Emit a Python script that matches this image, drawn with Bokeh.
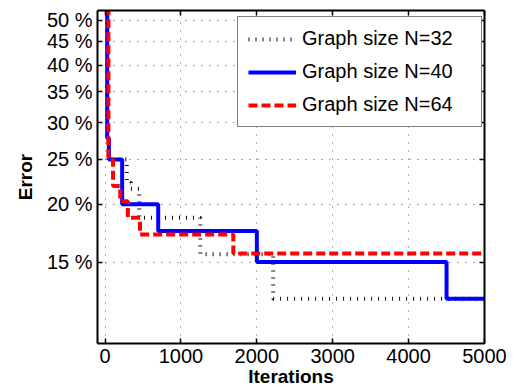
from bokeh.plotting import figure
from bokeh.models import (Range1d, LogAxis, LinearAxis, FixedTicker, Legend,
                          LegendItem, CustomLabelingPolicy)
from bokeh.embed import file_html
from bokeh.resources import INLINE

# ---------------- data ----------------
iter_ticks = [0, 1000, 2000, 3000, 4000, 5000]
err_ticks = [15, 20, 25, 30, 35, 40, 45, 50]
err_tick_labels = ["15 %", "20 %", "25 %", "30 %", "35 %", "40 %", "45 %", "50 %"]

# step curves: iteration where error changes, error (%) from then on
n32_iter = [0, 28, 50, 285, 340, 450, 1255, 2215]
n32_err = [60, 27.8, 25, 22.3, 21.6, 18.7, 15.6, 12.5]

n40_iter = [0, 28, 50, 225, 700, 2000, 4500]
n40_err = [60, 27.8, 25, 20, 17.5, 15, 12.5]

n64_iter = [0, 44, 105, 200, 300, 460, 1690]
n64_err = [60, 25, 21.9, 20.3, 18.7, 17.2, 15.65]

last_iter = 5000
labels = ["Graph size N=32", "Graph size N=40", "Graph size N=64"]

x_start, x_end = -100, 5000
y_start, y_end = 10, 52.5

FONT = "Liberation Sans"

p = figure(width=515, height=391,
           x_range=Range1d(x_start, x_end), y_range=Range1d(y_start, y_end),
           y_axis_type="log", output_backend="svg", toolbar_location=None,
           min_border_left=97, min_border_right=31, min_border_top=10,
           min_border_bottom=48)
p.outline_line_color = None
p.background_fill_color = "white"

hide_all = CustomLabelingPolicy(code="return [];")
top_axis = LinearAxis(major_label_text_font_size="1px", major_label_standoff=0,
                      major_label_policy=hide_all)
right_axis = LogAxis(major_label_text_font_size="1px", major_label_standoff=0,
                     major_label_policy=CustomLabelingPolicy(code="return [];"))
p.add_layout(top_axis, "above")
p.add_layout(right_axis, "right")

for ax in p.xaxis:
    ax.ticker = FixedTicker(ticks=iter_ticks)
for ax in p.yaxis:
    ax.ticker = FixedTicker(ticks=err_ticks)
for ax in list(p.xaxis) + list(p.yaxis):
    ax.major_tick_in = 5
    ax.major_tick_out = 0
    ax.minor_tick_in = 0
    ax.minor_tick_out = 0
    ax.axis_line_width = 2
    ax.axis_line_color = "black"
    ax.major_tick_line_width = 1.5
    ax.major_tick_line_color = "black"

main_x = p.below[0]
main_y = p.left[0]
for ax in (main_x, main_y):
    ax.major_label_text_font = FONT
    ax.major_label_text_font_size = "20px"
    ax.major_label_text_color = "black"
    ax.major_label_standoff = 5
    ax.axis_label_text_font = FONT
    ax.axis_label_text_font_size = "19px"
    ax.axis_label_text_font_style = "bold"
    ax.axis_label_text_color = "black"
main_y.major_label_overrides = dict(zip(err_ticks, err_tick_labels))
main_y.axis_label = "Error"
main_y.axis_label_standoff = 8
main_x.axis_label = "Iterations"
main_x.axis_label_standoff = 0

p.grid.grid_line_color = "#333333"
p.grid.grid_line_dash = "1 7"
p.grid.grid_line_width = 1
p.grid.grid_line_alpha = 0.8

r32 = p.step(x=n32_iter + [last_iter], y=n32_err + [n32_err[-1]], mode="after",
             line_color="#111111", line_width=4, line_dash="1 6")
r40 = p.step(x=n40_iter + [last_iter], y=n40_err + [n40_err[-1]], mode="after",
             line_color="#0000ff", line_width=4)
r64 = p.step(x=n64_iter + [last_iter], y=n64_err + [n64_err[-1]], mode="after",
             line_color="#ff0000", line_width=4, line_dash="9 4")

legend = Legend(items=[LegendItem(label=labels[0], renderers=[r32]),
                       LegendItem(label=labels[1], renderers=[r40]),
                       LegendItem(label=labels[2], renderers=[r64])],
                location=(140, 216))
legend.label_text_font = FONT
legend.label_text_font_size = "20px"
legend.label_text_color = "black"
legend.glyph_width = 48
legend.glyph_height = 20
legend.label_height = 20
legend.label_width = 169
legend.label_standoff = 6
legend.padding = 10
legend.spacing = 10
legend.margin = 0
legend.border_line_color = "black"
legend.border_line_width = 1.5
legend.background_fill_color = "white"
legend.background_fill_alpha = 1
p.add_layout(legend)

open("out.html", "w").write(file_html(p, INLINE))
